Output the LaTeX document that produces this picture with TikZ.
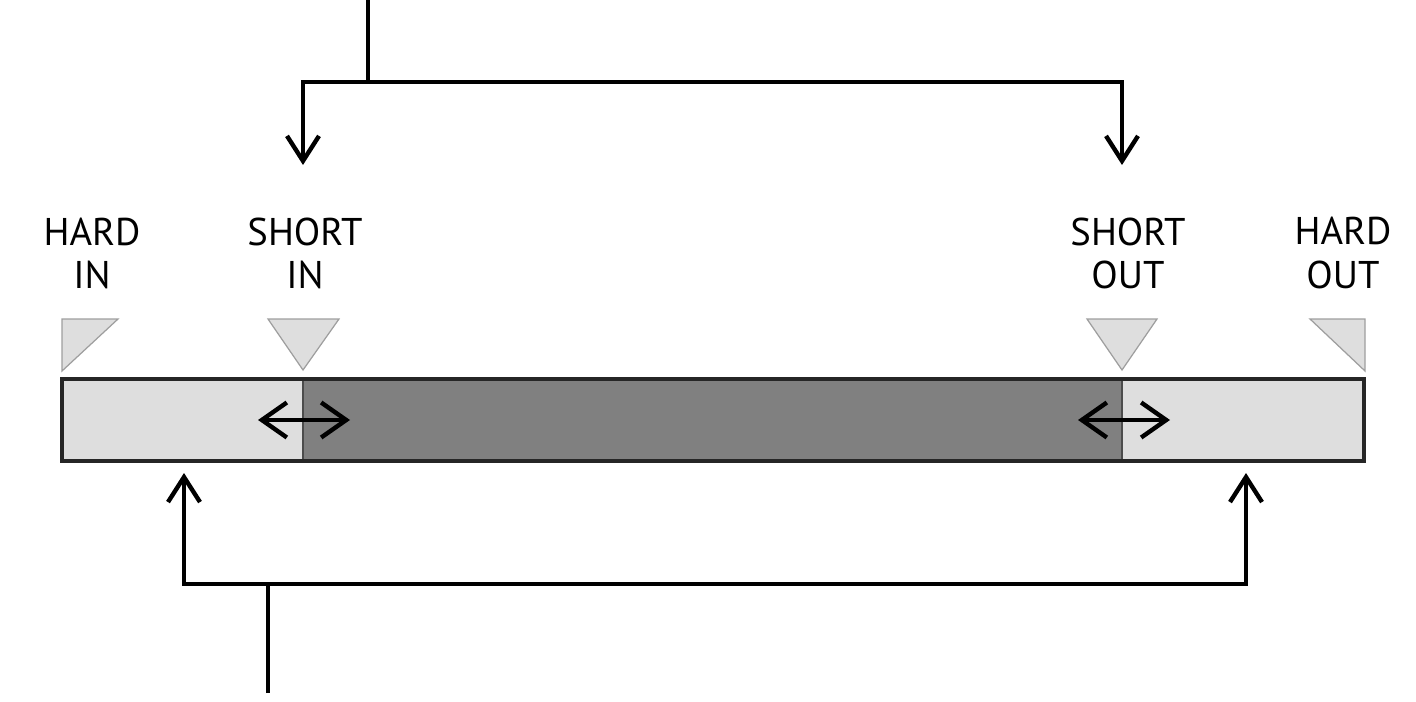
\documentclass[tikz,border=0pt]{standalone}
\usepackage{fontspec}
\usepackage{tikz}
\usetikzlibrary{positioning,arrows.meta}
\newfontfamily\labelfont{PT Sans}
\definecolor{segLight}{gray}{0.87}
\definecolor{segDark}{gray}{0.50}
\definecolor{markEdge}{gray}{0.62}

\begin{document}
\begin{tikzpicture}[seg/.style={draw=black!70, line width=0.6pt, rectangle, inner sep=0pt, outer sep=0pt, minimum height=1.64cm},
    lbl/.style={font=\labelfont\fontsize{22}{24.5}\selectfont, align=center, inner sep=0pt},
    marker/.style={draw=markEdge, fill=segLight, line width=0.7pt},
    tip/.style={-{Straight Barb[length=5mm, width=6.4mm]}, line width=2.5pt},
    dbl/.style={{Straight Barb[length=5mm, width=7mm]}-{Straight Barb[length=5mm, width=7mm]}, line width=2.5pt}]
            \useasboundingbox (0,0) rectangle (28.32,14.02);

            % Bar
            \node[seg, fill=segLight, minimum width=4.82cm, anchor=west] (pre) at (1.24,5.62) {};
            \node[seg, fill=segDark, minimum width=16.38cm, right=0pt of pre] (body) {};
            \node[seg, fill=segLight, minimum width=4.84cm, right=0pt of body] (post) {};
            \draw[line width=1.8pt, black!85] (pre.north west) rectangle (post.south east);

            % Markers
            \draw[marker] (1.24,7.64) -- (2.36,7.64) -- (1.24,6.60) -- cycle;
            \draw[marker] (5.36,7.64) -- (6.78,7.64) -- (6.06,6.62) -- cycle;
            \draw[marker] (21.74,7.64) -- (23.14,7.64) -- (22.44,6.62) -- cycle;
            \draw[marker] (26.20,7.64) -- (27.30,7.64) -- (27.30,6.60) -- cycle;

            % Labels
            \node[lbl] (lblHardIn) at (1.84,8.96) {HARD\\IN};
            \node[lbl] (lblShortIn) at (6.10,8.96) {SHORT\\IN};
            \node[lbl] (lblShortOut) at (22.56,8.96) {SHORT\\OUT};
            \node[lbl] (lblHardOut) at (26.86,8.96) {HARD\\OUT};

            % Trim arrows
            \draw[dbl] ([xshift=-0.90cm]body.west) -- ([xshift=0.94cm]body.west);
            \draw[dbl] ([xshift=-0.88cm]body.east) -- ([xshift=0.96cm]body.east);

            % Top connector
            \coordinate (feedTop) at (7.36,14.02);
            \coordinate (splitTop) at (7.36,12.38);
            \coordinate (tipShortIn) at (6.06,10.72);
            \coordinate (tipShortOut) at (22.44,10.72);
            \draw[line width=2.5pt] (feedTop) -- (splitTop);
            \draw[tip] (splitTop) -| (tipShortIn);
            \draw[tip] (splitTop) -| (tipShortOut);

            % Bottom connector
            \coordinate (feedBot) at (5.36,0.16);
            \coordinate (splitBot) at (5.36,2.34);
            \coordinate (tipHardIn) at (3.68,4.56);
            \coordinate (tipHardOut) at (24.92,4.56);
            \draw[line width=2.5pt] (feedBot) -- (splitBot);
            \draw[tip] (splitBot) -| (tipHardIn);
            \draw[tip] (splitBot) -| (tipHardOut);
        \end{tikzpicture}
\end{document}
